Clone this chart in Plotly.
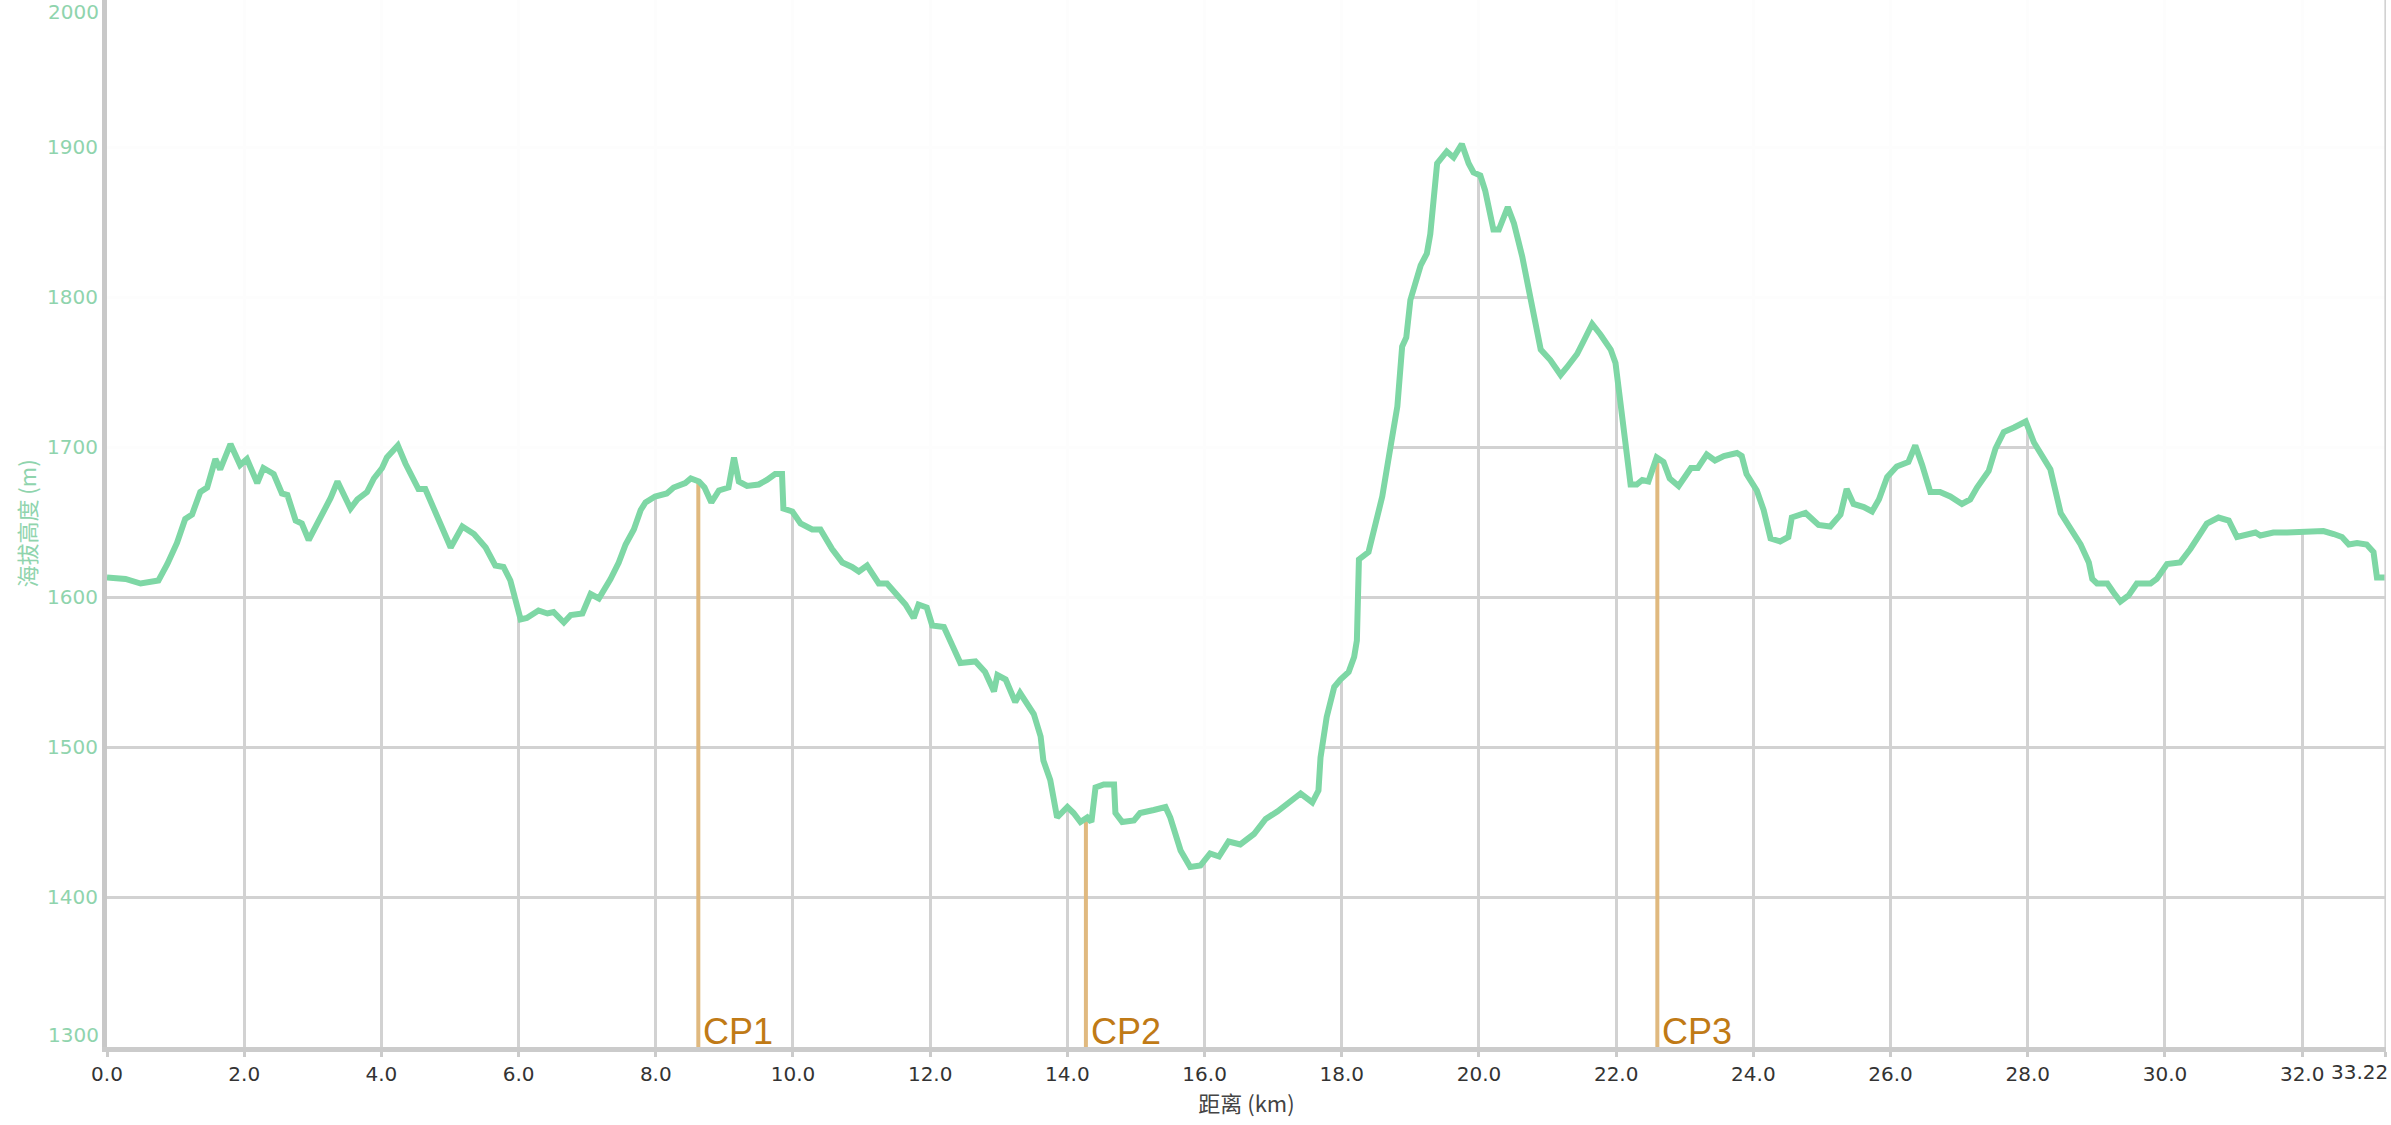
import numpy as np
import plotly.graph_objects as go

# ---- data ----
distance_km = [
    0.00, 0.27, 0.49, 0.75, 0.88, 1.02, 1.14, 1.24, 1.36, 1.46, 1.58, 1.65, 1.80, 1.94, 2.04, 2.19, 2.28, 2.43,
    2.55, 2.63, 2.75, 2.84, 2.94, 3.11, 3.26, 3.36, 3.48, 3.55, 3.65, 3.79, 3.89, 4.01, 4.08, 4.24, 4.35, 4.47,
    4.54, 4.64, 4.76, 4.88, 5.01, 5.18, 5.35, 5.52, 5.66, 5.78, 5.88, 6.03, 6.12, 6.29, 6.42, 6.51, 6.66, 6.76,
    6.93, 7.05, 7.17, 7.34, 7.46, 7.56, 7.68, 7.78, 7.85, 7.99, 8.16, 8.26, 8.43, 8.51, 8.63, 8.71, 8.81, 8.92,
    9.06, 9.14, 9.21, 9.33, 9.50, 9.62, 9.74, 9.84, 9.86, 9.99, 10.11, 10.28, 10.40, 10.57, 10.72, 10.86, 10.96,
    11.08, 11.25, 11.37, 11.52, 11.64, 11.76, 11.83, 11.95, 12.03, 12.20, 12.34, 12.44, 12.66, 12.80, 12.93,
    12.98, 13.10, 13.24, 13.31, 13.51, 13.61, 13.65, 13.75, 13.85, 14.00, 14.09, 14.19, 14.29, 14.35, 14.41,
    14.53, 14.68, 14.70, 14.80, 14.97, 15.06, 15.26, 15.43, 15.50, 15.65, 15.79, 15.94, 16.08, 16.21, 16.35,
    16.52, 16.72, 16.89, 17.06, 17.20, 17.40, 17.57, 17.66, 17.69, 17.78, 17.89, 17.98, 18.10, 18.18, 18.22,
    18.25, 18.39, 18.49, 18.59, 18.71, 18.81, 18.88, 18.94, 19.00, 19.07, 19.15, 19.24, 19.29, 19.39, 19.53,
    19.63, 19.75, 19.85, 19.92, 20.02, 20.09, 20.21, 20.29, 20.42, 20.51, 20.63, 20.75, 20.90, 21.04, 21.19,
    21.28, 21.43, 21.53, 21.65, 21.77, 21.92, 21.99, 22.06, 22.13, 22.21, 22.30, 22.38, 22.47, 22.59, 22.69,
    22.78, 22.91, 23.09, 23.19, 23.32, 23.44, 23.57, 23.76, 23.83, 23.90, 24.05, 24.15, 24.25, 24.39, 24.51,
    24.56, 24.76, 24.95, 25.12, 25.27, 25.36, 25.46, 25.61, 25.73, 25.83, 25.95, 26.09, 26.26, 26.36, 26.46,
    26.58, 26.72, 26.87, 27.04, 27.16, 27.26, 27.43, 27.53, 27.65, 27.80, 27.97, 28.09, 28.21, 28.33, 28.48,
    28.60, 28.77, 28.89, 28.94, 29.01, 29.16, 29.25, 29.35, 29.47, 29.59, 29.79, 29.88, 30.03, 30.22, 30.37,
    30.61, 30.78, 30.93, 31.05, 31.20, 31.32, 31.39, 31.58, 31.78, 31.97, 32.17, 32.31, 32.46, 32.58, 32.68,
    32.80, 32.94, 33.04, 33.09, 33.22,
]
elevation_m = [
    1613, 1612, 1609, 1611, 1622, 1636, 1652, 1655, 1670, 1673, 1692, 1685, 1702, 1688, 1692, 1676, 1686, 1682,
    1669, 1668, 1651, 1649, 1638, 1653, 1666, 1677, 1665, 1659, 1665, 1670, 1679, 1686, 1693, 1701, 1689, 1678,
    1672, 1672, 1660, 1646, 1633, 1647, 1642, 1633, 1621, 1620, 1611, 1585, 1586, 1591, 1589, 1590, 1583, 1588,
    1589, 1602, 1599, 1612, 1623, 1635, 1645, 1658, 1663, 1667, 1669, 1673, 1676, 1679, 1677, 1673, 1663, 1671,
    1673, 1693, 1677, 1674, 1675, 1678, 1682, 1682, 1659, 1657, 1649, 1645, 1645, 1632, 1623, 1620, 1617,
    1621, 1609, 1609, 1602, 1595, 1586, 1595, 1593, 1581, 1580, 1566, 1556, 1557, 1550, 1537,
    1548, 1545, 1530, 1536, 1522, 1507, 1491, 1478, 1453, 1460, 1456, 1450, 1453, 1450, 1473,
    1475, 1475, 1456, 1450, 1451, 1456, 1458, 1460, 1453, 1431, 1420, 1421, 1429, 1427, 1437,
    1435, 1442, 1452, 1457, 1462, 1469, 1463, 1471, 1493, 1520, 1540, 1545, 1550, 1560, 1571,
    1625, 1630, 1647, 1667, 1700, 1727, 1767, 1773, 1798, 1809, 1821, 1829, 1842, 1889, 1897,
    1893, 1902, 1889, 1883, 1881, 1871, 1845, 1845, 1860, 1849, 1827, 1800, 1765, 1758, 1748,
    1753, 1762, 1771, 1782, 1775, 1765, 1756, 1729, 1700, 1675, 1675, 1678, 1677, 1693, 1690,
    1679, 1674, 1686, 1686, 1695, 1691, 1694, 1696, 1694, 1682, 1671, 1658, 1639, 1637, 1640,
    1653, 1656, 1648, 1647, 1655, 1672, 1662, 1660, 1657, 1665, 1680, 1687, 1690, 1701, 1688,
    1670, 1670, 1667, 1662, 1665, 1673, 1684, 1699, 1710, 1713, 1717, 1703, 1693, 1685, 1656,
    1647, 1635, 1623, 1612, 1609, 1609, 1603, 1597, 1601, 1609, 1609, 1612, 1622, 1623, 1632,
    1649, 1653, 1651, 1640, 1642, 1643, 1641, 1643, 1643, 1643, 1643, 1644, 1642, 1640, 1635,
    1636, 1635, 1630, 1613, 1613,
]
cp_names = ["CP1", "CP2", "CP3"]
cp_km = [8.62, 14.27, 22.60]

x_tickvals = [0, 2, 4, 6, 8, 10, 12, 14, 16, 18, 20, 22, 24, 26, 28, 30, 32, 33.22]
x_ticktext = ["0.0", "2.0", "4.0", "6.0", "8.0", "10.0", "12.0", "14.0", "16.0", "18.0", "20.0",
              "22.0", "24.0", "26.0", "28.0", "30.0", "32.0", "33.22"]
y_tickvals = [1400, 1500, 1600, 1700, 1800, 1900]
y_edge_labels = [1300, 2000]

Y_MIN, Y_MAX = 1300, 1998
X_MAX = 33.22

GREEN = "#7ed7a5"
LABEL_GREEN = "#8fd4ad"
GRID = "#d2d2d2"
CP_LINE = "#e0b97f"
CP_TEXT = "#c07a16"
FONT = "DejaVu Sans, Verdana, Noto Sans CJK SC, sans-serif"
CJK = "Noto Sans CJK SC, DejaVu Sans, sans-serif"

fig = go.Figure()

# white veil above the profile (grid shows only below the curve)
fig.add_trace(go.Scatter(x=[0, X_MAX], y=[2100, 2100], mode="lines",
                         line=dict(width=0), hoverinfo="skip", showlegend=False))
fig.add_trace(go.Scatter(x=distance_km, y=elevation_m, mode="lines", line=dict(width=0),
                         fill="tonexty", fillcolor="rgba(255,255,255,0.94)",
                         hoverinfo="skip", showlegend=False))

# checkpoint drop lines
cp_elev = np.interp(cp_km, distance_km, elevation_m)
for name, km, el in zip(cp_names, cp_km, cp_elev):
    fig.add_trace(go.Scatter(x=[km, km], y=[Y_MIN, el], mode="lines",
                             line=dict(color=CP_LINE, width=4), hoverinfo="skip", showlegend=False))
    fig.add_annotation(x=km, y=Y_MIN, xref="x", yref="y", text=name, showarrow=False,
                       xanchor="left", yanchor="bottom", xshift=3, yshift=-7,
                       font=dict(family="Liberation Sans, Arial, sans-serif", size=36, color=CP_TEXT))

# elevation profile
fig.add_trace(go.Scatter(x=distance_km, y=elevation_m, mode="lines",
                         line=dict(color=GREEN, width=6), showlegend=False))

# right edge line at 33.22
fig.add_shape(type="line", xref="x", yref="paper", x0=X_MAX, x1=X_MAX, y0=0, y1=1,
              line=dict(color=GRID, width=3))

# edge y labels (shifted inward like the original)
for v, sh in zip(y_edge_labels, [12, -15]):
    fig.add_annotation(x=0, y=(v - Y_MIN) / (Y_MAX - Y_MIN), xref="paper", yref="paper",
                       text=str(v), showarrow=False,
                       xanchor="right", yanchor="middle", xshift=-6, yshift=sh,
                       font=dict(family=FONT, size=20, color=LABEL_GREEN))

# last x label, pulled inside the figure like the original
fig.add_annotation(x=x_tickvals[-1], y=0, xref="x", yref="paper", text=x_ticktext[-1],
                   showarrow=False, xanchor="right", yanchor="middle", xshift=4, yshift=-25,
                   font=dict(family=FONT, size=20, color="#333333"))

fig.update_layout(
    width=2391, height=1125,
    margin=dict(l=107, r=5, t=0, b=78),
    paper_bgcolor="white", plot_bgcolor="white",
    font=dict(family=FONT, size=20),
    xaxis=dict(range=[0, X_MAX + 0.002], tickvals=x_tickvals, ticktext=x_ticktext[:-1] + [""],
               showgrid=True, gridcolor=GRID, gridwidth=2.5, zeroline=False,
               showline=True, linecolor="#cbcbcb", linewidth=5,
               ticks="outside", ticklen=5, tickwidth=3, tickcolor="#cbcbcb",
               tickfont=dict(family=FONT, size=20, color="#333333"),
               title=dict(text="距离 (km)", standoff=10,
                          font=dict(family=CJK, size=22, color="#444444"))),
    yaxis=dict(range=[Y_MIN, Y_MAX], tickvals=y_tickvals,
               showgrid=True, gridcolor=GRID, gridwidth=2.5, zeroline=False,
               showline=True, linecolor="#c8c8c8", linewidth=5, ticks="",
               tickfont=dict(family=FONT, size=20, color=LABEL_GREEN),
               title=dict(text="海拔高度 (m)", standoff=6,
                          font=dict(family=CJK, size=22, color=LABEL_GREEN))),
)

fig.write_html("out.html", config={"displayModeBar": False},
               post_script="document.body.style.margin='0px';document.body.style.overflow='hidden';")
